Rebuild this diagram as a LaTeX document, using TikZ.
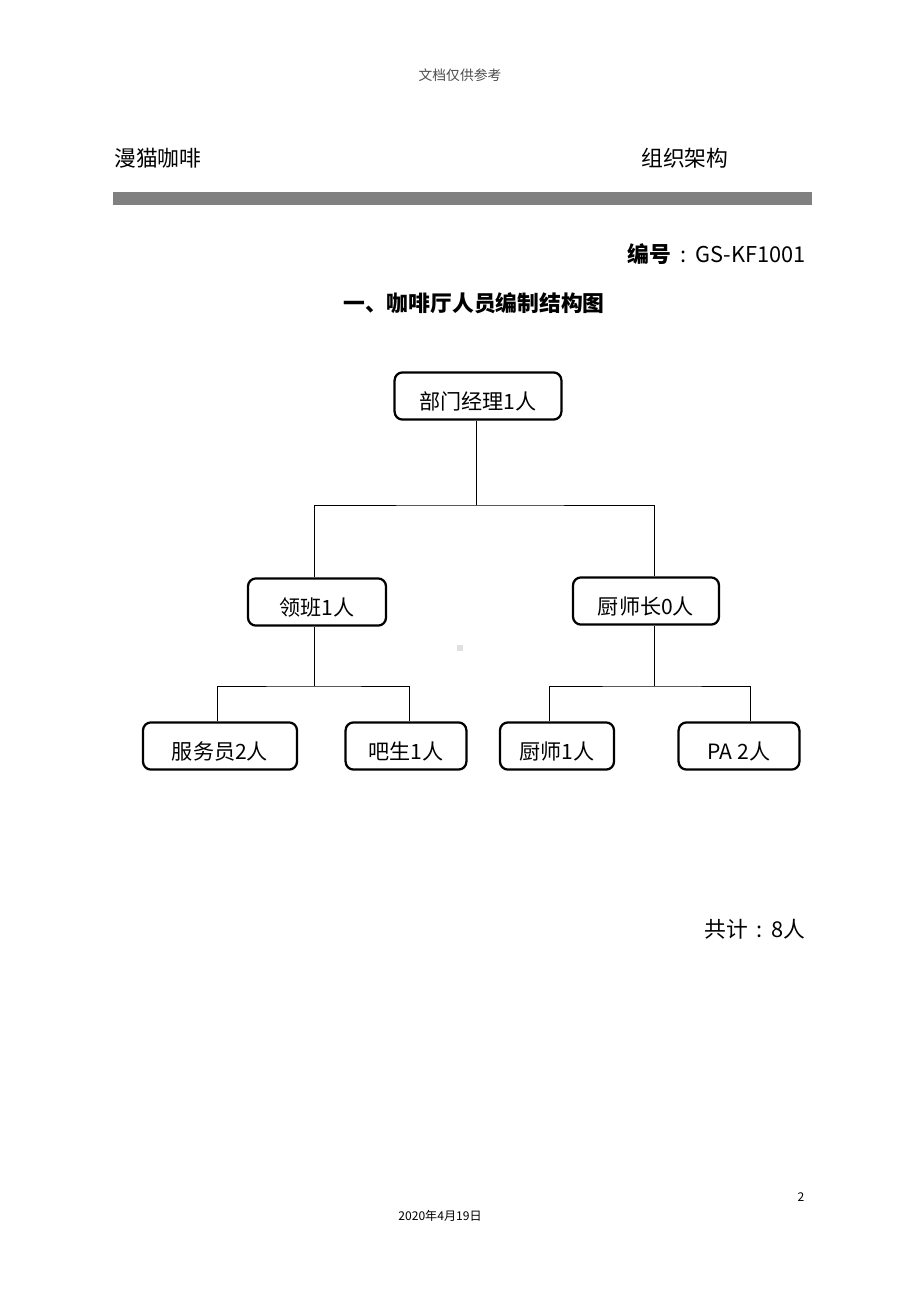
\documentclass[tikz,border=0pt]{standalone}
\usepackage{fontspec}
\setmainfont{Noto Sans CJK SC}
\usetikzlibrary{positioning}

\newcommand{\fwcolon}{\makebox[1.1em]{:}}

\tikzset{
  post/.style={draw, line width=1.6pt, rounded corners=0.2cm, minimum height=1.18cm,
    inner sep=0pt, text height=19pt, text depth=0pt, font=\fontsize{15}{18}\selectfont},
  link/.style={draw, line width=0.6pt},
  head/.style={inner sep=0pt, font=\fontsize{15.5}{18}\selectfont},
  tiny/.style={inner sep=0pt, font=\fontsize{8.6}{10}\selectfont},
}

\begin{document}
\begin{tikzpicture}[x=0.025cm, y=-0.025cm]
  \useasboundingbox (0,0) rectangle (920,1302);

  % page header
  \node[tiny, text=black!70, font=\fontsize{9.8}{11}\selectfont] (note) at (460,75) {文档仅供参考};
  \node[head, anchor=west] (brand) at (114,158) {漫猫咖啡};
  \node[head, anchor=west] (kind) at (641,158) {组织架构};
  \fill[black!50] (113,192) rectangle (812,205);
  \node[head, anchor=east] (code) at (806,254) {\textbf{编号}\fwcolon GS-KF1001};
  \node[head, font=\fontsize{15.5}{18}\selectfont\bfseries] (title) at (474,303) {一、咖啡厅人员编制结构图};

  % boxes
  \node[post, minimum width=4.17cm] (mgr) at (478,396) {部门经理1人};
  \node[post, minimum width=3.45cm] (lead) at (317,602) {领班1人};
  \node[post, minimum width=3.65cm] (chef) at (646,601) {厨师长0人};
  \node[post, minimum width=3.85cm] (waiter) at (220,746) {服务员2人};
  \node[post, minimum width=3.02cm] (bar) at (406,746) {吧生1人};
  \node[post, minimum width=2.85cm] (cook) at (557,746) {厨师1人};
  \node[post, minimum width=3.02cm] (pa) at (739,746) {PA 2人};

  % connectors
  \coordinate (mgrFoot) at ([xshift=-0.05cm]mgr.south);
  \coordinate (leadTop) at ([xshift=-0.075cm]lead.north);
  \coordinate (leadFoot) at ([xshift=-0.075cm]lead.south);
  \coordinate (chefTop) at ([xshift=0.2cm]chef.north);
  \coordinate (chefFoot) at ([xshift=0.2cm]chef.south);
  \coordinate (waiterTop) at ([xshift=-0.075cm]waiter.north);
  \coordinate (barTop) at ([xshift=0.09cm]bar.north);
  \coordinate (cookTop) at ([xshift=-0.2cm]cook.north);
  \coordinate (paTop) at ([xshift=0.29cm]pa.north);
  \coordinate (bus1) at (476,505);
  \coordinate (bus2) at (314,686);
  \coordinate (bus3) at (654,686);
  \draw[link] (mgrFoot) -- (mgrFoot |- bus1);
  \draw[link] (leadTop) |- (bus1) -| (chefTop);
  \draw[link] (leadFoot) -- (leadFoot |- bus2);
  \draw[link] (waiterTop) |- (bus2) -| (barTop);
  \draw[link] (chefFoot) -- (chefFoot |- bus3);
  \draw[link] (cookTop) |- (bus3) -| (paTop);

  \fill[black!12] (457,645) rectangle (463,651);

  % totals and footer
  \node[head, anchor=east] (total) at (806,929) {共计\fwcolon 8人};
  \node[tiny] (page) at (801,1197) {2};
  \node[tiny] (date) at (440,1216) {2020年4月19日};
\end{tikzpicture}
\end{document}
